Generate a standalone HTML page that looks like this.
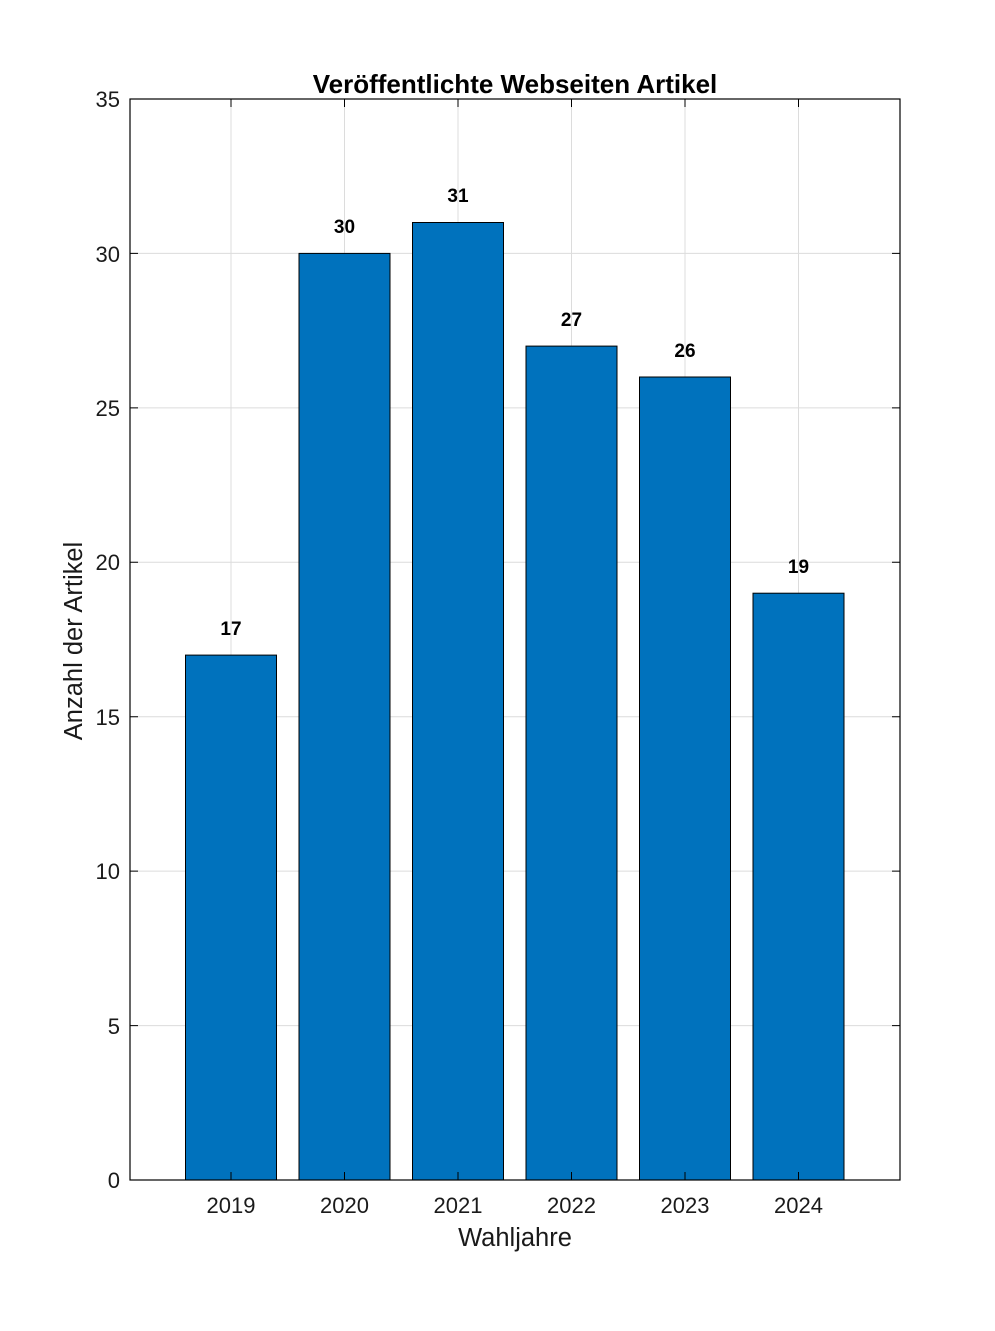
<!DOCTYPE html>
<html><head><meta charset="utf-8"><style>body{margin:0;background:#fff}</style></head><body>
<svg width="995" height="1326" xmlns="http://www.w3.org/2000/svg" font-family="Liberation Sans, Arial, sans-serif">
<rect width="995" height="1326" fill="#fff"/>
<g stroke="#dcdcdc" stroke-width="1">
<line x1="130" x2="900" y1="253.4" y2="253.4"/><line x1="130" x2="900" y1="407.9" y2="407.9"/><line x1="130" x2="900" y1="562.3" y2="562.3"/><line x1="130" x2="900" y1="716.7" y2="716.7"/><line x1="130" x2="900" y1="871.1" y2="871.1"/><line x1="130" x2="900" y1="1025.6" y2="1025.6"/>
<line x1="231" x2="231" y1="99" y2="1180"/><line x1="344.5" x2="344.5" y1="99" y2="1180"/><line x1="458" x2="458" y1="99" y2="1180"/><line x1="571.5" x2="571.5" y1="99" y2="1180"/><line x1="685" x2="685" y1="99" y2="1180"/><line x1="798.5" x2="798.5" y1="99" y2="1180"/>
</g>
<g fill="#0072BD" stroke="#000" stroke-width="1">
<rect x="185.5" y="655.1" width="91" height="524.9"/>
<rect x="299" y="253.4" width="91" height="926.6"/>
<rect x="412.5" y="222.5" width="91" height="957.5"/>
<rect x="526" y="346.1" width="91" height="833.9"/>
<rect x="639.5" y="377" width="91" height="803"/>
<rect x="753" y="593.2" width="91" height="586.8"/>
</g>
<rect x="130" y="99" width="770" height="1081" fill="none" stroke="#000" stroke-width="1.2"/>
<g stroke="#000" stroke-width="1">
<path d="M130 253.4h8M130 407.9h8M130 562.3h8M130 716.7h8M130 871.1h8M130 1025.6h8M900 253.4h-8M900 407.9h-8M900 562.3h-8M900 716.7h-8M900 871.1h-8M900 1025.6h-8"/>
<path d="M231 1180v-8M344.5 1180v-8M458 1180v-8M571.5 1180v-8M685 1180v-8M798.5 1180v-8M231 99v8M344.5 99v8M458 99v8M571.5 99v8M685 99v8M798.5 99v8"/>
</g>
<g font-size="22" fill="#1a1a1a" text-anchor="end">
<text x="120" y="1188">0</text><text x="120" y="1034">5</text><text x="120" y="879">10</text><text x="120" y="725">15</text><text x="120" y="570">20</text><text x="120" y="416">25</text><text x="120" y="262">30</text><text x="120" y="107">35</text>
</g>
<g font-size="22" fill="#1a1a1a" text-anchor="middle">
<text x="231" y="1213">2019</text><text x="344.5" y="1213">2020</text><text x="458" y="1213">2021</text><text x="571.5" y="1213">2022</text><text x="685" y="1213">2023</text><text x="798.5" y="1213">2024</text>
<text x="515" y="1246" font-size="25.5">Wahljahre</text>
<text transform="translate(82,641) rotate(-90)" font-size="25.5">Anzahl der Artikel</text>
</g>
<g font-size="19" font-weight="bold" fill="#000" text-anchor="middle">
<text x="231" y="635">17</text><text x="344.5" y="233">30</text><text x="458" y="202">31</text><text x="571.5" y="326">27</text><text x="685" y="357">26</text><text x="798.5" y="573">19</text>
</g>
<text x="515" y="93" font-size="26" font-weight="bold" text-anchor="middle">Veröffentlichte Webseiten Artikel</text>
</svg>
</body></html>
